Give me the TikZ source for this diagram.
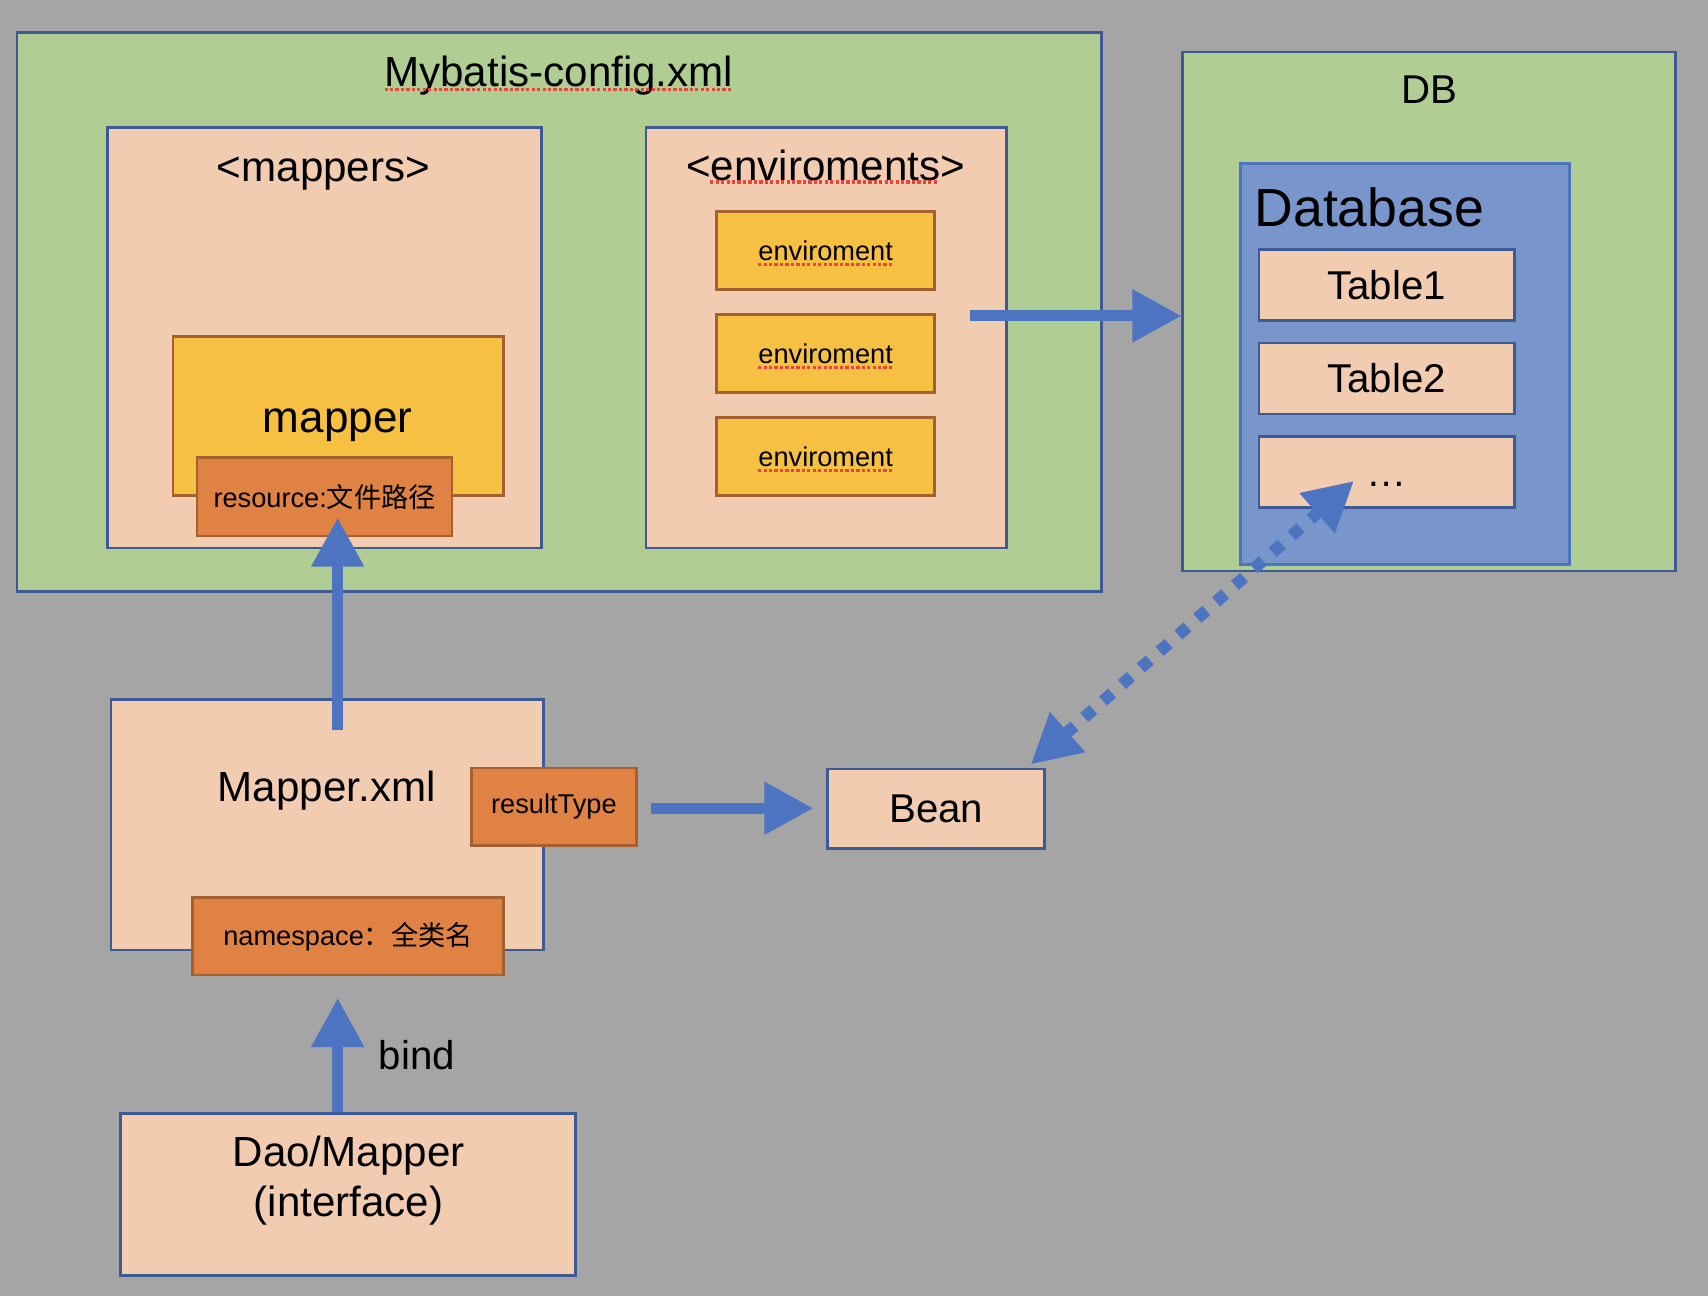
\documentclass[tikz,border=0pt]{standalone}
\usepackage{fontspec}
\setmainfont{Liberation Sans}
\newfontfamily\cjk{Noto Sans CJK SC}
\usetikzlibrary{arrows.meta}

\definecolor{bggray}{HTML}{A5A5A5}
\definecolor{cfggreen}{HTML}{B0CE94}
\definecolor{peachfill}{HTML}{F2CCB0}
\definecolor{envyellow}{HTML}{F6C143}
\definecolor{tagorange}{HTML}{E08244}
\definecolor{dbblue}{HTML}{7896CC}
\definecolor{edgeblue}{HTML}{3E5A94}
\definecolor{tagbrown}{HTML}{A5602F}
\definecolor{arrowblue}{HTML}{4D74C1}
\definecolor{spellred}{HTML}{E8453C}

\tikzset{
  bigfont/.style={font=\fontsize{11}{13.1}\selectfont},
  midfont/.style={font=\fontsize{10.5}{12.6}\selectfont},
  smallfont/.style={font=\fontsize{7.1}{8.5}\selectfont},
  box/.style={draw=edgeblue, line width=0.7pt, inner sep=0pt},
  yellowbox/.style={draw=tagbrown, fill=envyellow, line width=0.7pt, inner sep=0pt},
  tagbox/.style={draw=tagbrown, fill=tagorange, line width=0.7pt, inner sep=0pt},
  flow/.style={-{Triangle[length=0.45cm,width=0.46cm]}, line width=0.1cm, draw=arrowblue},
  dbflow/.style={{Triangle[length=0.45cm,width=0.46cm]}-{Triangle[length=0.45cm,width=0.46cm]},
    line width=0.11cm, dash pattern=on 0.11cm off 0.12cm, draw=arrowblue},
  spell/.style={draw=spellred, line width=0.03cm, dash pattern=on 0.03cm off 0.02cm}
}

\begin{document}
\begin{tikzpicture}[x=0.01cm, y=-0.01cm]
  % background
  \fill[bggray] (0,0) rectangle (1568,1190);
  \useasboundingbox (0,0) rectangle (1568,1190);

  % config file
  \node[box, fill=cfggreen, minimum width=9.95cm, minimum height=5.13cm] (config) at (513.5,286.5) {};
  \node[bigfont] (configtitle) at (513,69) {Mybatis-config.xml};
  \draw[spell] (353,82) -- (671,82);

  \node[box, fill=peachfill, minimum width=3.98cm, minimum height=3.86cm] (mappers) at (298,310) {};
  \node[bigfont] (mapperstitle) at (297,159) {<mappers>};
  \node[yellowbox, minimum width=3.03cm, minimum height=1.46cm] (mapper) at (310.5,382) {};
  \node[font=\fontsize{11.5}{13.8}\selectfont] (mappertext) at (310,390) {mapper};
  \node[tagbox, smallfont, minimum width=2.34cm, minimum height=0.72cm] (resource) at (298,456) {resource:{\cjk 文件路径}};

  \node[box, fill=peachfill, minimum width=3.31cm, minimum height=3.86cm] (envs) at (758.5,310) {};
  \node[bigfont] (envstitle) at (758,152) {<enviroments>};
  \draw[spell] (652,167) -- (861,167);
  \foreach \y/\n in {230/1, 324.5/2, 419/3} {
    \node[yellowbox, smallfont, minimum width=2cm, minimum height=0.72cm] (env\n) at (758,\y) {enviroment};
    \draw[spell] (696,\y+13) -- (821,\y+13);
  }

  % database
  \node[box, fill=cfggreen, minimum width=4.52cm, minimum height=4.76cm] (db) at (1312,286) {};
  \node[midfont] (dbtitle) at (1312,82) {DB};
  \node[draw=arrowblue, line width=0.9pt, fill=dbblue, inner sep=0pt, minimum width=3.02cm, minimum height=3.68cm] (database) at (1290,334) {};
  \node[anchor=west, inner sep=0pt, font=\fontsize{14}{17}\selectfont] (databasetitle) at (1151,190) {Database};
  \foreach \y/\t [count=\i] in {261.5/Table1, 347.5/Table2, 433.5/\ldots}
    \node[box, fill=peachfill, midfont, text height=0.95em, text depth=0.2em, minimum width=2.34cm, minimum height=0.65cm] (table\i) at (1273,\y) {\t};

  % mapper file
  \node[box, fill=peachfill, minimum width=3.97cm, minimum height=2.30cm] (mapperxml) at (300.5,757) {};
  \node[bigfont] (mapperxmltitle) at (300,726) {Mapper.xml};
  \node[tagbox, smallfont, minimum width=1.51cm, minimum height=0.71cm] (resulttype) at (508.5,740.5) {resultType};
  \node[tagbox, smallfont, minimum width=2.85cm, minimum height=0.71cm] (namespace) at (319.5,859.5) {namespace{\cjk ：全类名}};

  \node[box, fill=peachfill, midfont, minimum width=1.99cm, minimum height=0.73cm] (bean) at (859.5,742.5) {Bean};

  \node[box, fill=peachfill, minimum width=4.17cm, minimum height=1.49cm] (dao) at (319.5,1096.5) {};
  \node[bigfont, align=center] (daotitle) at (320,1084) {Dao/Mapper\\(interface)};

  % arrows
  \draw[flow] ([shift={(9.5,29)}]mapperxml.north) -- ([shift={(12,-18)}]resource.south);
  \draw[flow] ([shift={(-35,-20)}]envs.east) -- ([shift={(0,4)}]db.west);
  \draw[flow] ([shift={(12,1.5)}]resulttype.east) -- ([shift={(-12,-0.5)}]bean.west);
  \draw[flow] ([shift={(-9.5,0)}]dao.north) -- ([shift={(-9.5,20)}]namespace.south)
    node[midway, right=0.21cm, midfont] (bindlabel) {bind};
  \draw[dbflow] ([shift={(-14,-3)}]bean.north east) -- ([shift={(-30,8)}]table3.center);
\end{tikzpicture}
\end{document}
